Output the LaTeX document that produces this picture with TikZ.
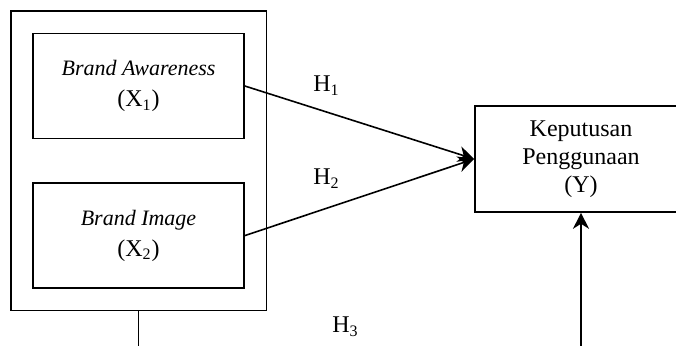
\documentclass[tikz,border=0pt]{standalone}
\usepackage{fontspec}
\setmainfont{Liberation Serif}
\usetikzlibrary{arrows.meta,positioning,fit}

\newcommand{\varname}[1]{{\fontsize{11}{15.5}\selectfont\textit{#1}}}

\begin{document}
\begin{tikzpicture}[x=0.5pt,y=-0.5pt,
    font=\fontsize{12}{15.5}\selectfont,
    varbox/.style={draw, line width=0.8pt, align=center, inner sep=0pt,
        minimum width=105.5pt, minimum height=52.5pt},
    link/.style={line width=0.8pt, -{Stealth[length=8pt,width=8pt,inset=2.5pt]}}]
\useasboundingbox (0,0) rectangle (676,346);
\clip (0,0) rectangle (676,346);

% Independent variables
\node[varbox] (x1) at (138.5,86) {\varname{Brand Awareness}\\(X\textsubscript{1})};
\node[varbox, below=21.5pt of x1] (x2) {\varname{Brand Image}\\(X\textsubscript{2})};
\node[draw, line width=0.8pt, inner sep=10.75pt, fit=(x1) (x2)] (xgroup) {};

% Dependent variable
\node[varbox, minimum width=106pt, minimum height=53pt,
    font=\fontsize{12}{14}\selectfont] (y) at (581,159)
    {Keputusan\\Penggunaan\\(Y)};

% Hypotheses
\draw[link] (x1.east) -- (y.west);
\draw[link] (x2.east) -- (y.west);
\draw[link] (xgroup.south) -- ++(0,80) -| (y.south);

\node[anchor=base west, inner sep=0pt] (h1) at (313,92) {H\textsubscript{1}};
\node[anchor=base west, inner sep=0pt] (h2) at (313,185) {H\textsubscript{2}};
\node[anchor=base west, inner sep=0pt] (h3) at (332,333) {H\textsubscript{3}};

\end{tikzpicture}
\end{document}
